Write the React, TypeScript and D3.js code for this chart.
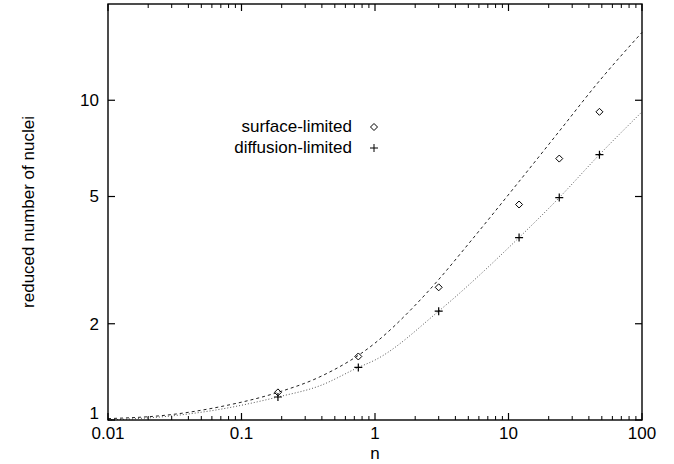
import React from 'react';
import * as d3 from 'd3';

// marker positions
const nValues = [0.1875, 0.75, 3, 12, 24, 48];
const surfaceValues = [1.22, 1.58, 2.6, 4.72, 6.57, 9.2];
const diffusionValues = [1.18, 1.46, 2.19, 3.72, 4.96, 6.76];

// model curves
const surfaceCurveN = [0.01, 0.03, 0.069, 0.187, 0.387, 1, 1.93, 3, 5, 12, 24, 48, 100];
const surfaceCurveY = [1.01, 1.04, 1.1, 1.22, 1.365, 1.74, 2.25, 2.75, 3.55, 5.57, 8.0, 11.5, 16.3];
const diffusionCurveN = [0.01, 0.03, 0.069, 0.187, 0.387, 0.75, 1, 3, 12, 24, 48, 100];
const diffusionCurveY = [1.0, 1.03, 1.08, 1.18, 1.28, 1.46, 1.54, 2.19, 3.72, 4.96, 6.76, 9.2];

const xTicks = [0.01, 0.1, 1, 10, 100];
const xTickLabels = ['0.01', '0.1', '1', '10', '100'];
const yTicks = [1, 2, 5, 10];
const yTickLabels = ['1', '2', '5', '10'];

const legendLabels = ['surface-limited', 'diffusion-limited'];

const W = 674;
const H = 464;
const margin = { top: 4, right: 32, bottom: 44, left: 108 };
const font = '"Liberation Sans", Arial, Helvetica, sans-serif';

const App = () => {
  const innerW = W - margin.left - margin.right;
  const innerH = H - margin.top - margin.bottom;

  const x = d3.scaleLog().domain([0.01, 100]).range([0, innerW]);
  const y = d3.scaleLog().domain([1, 20]).range([innerH, 0]);

  // minor ticks 2..9 in each decade
  const minorX: number[] = [];
  for (let e = -2; e < 2; e++) {
    for (let k = 2; k <= 9; k++) minorX.push(k * Math.pow(10, e));
  }

  const line = d3.line<[number, number]>()
    .x(d => x(d[0]))
    .y(d => y(d[1]))
    .curve(d3.curveMonotoneX);

  const surfacePath = line(surfaceCurveN.map((n, i) => [n, surfaceCurveY[i]] as [number, number])) || '';
  const diffusionPath = line(diffusionCurveN.map((n, i) => [n, diffusionCurveY[i]] as [number, number])) || '';

  const diamond = (cx: number, cy: number, r = 3.5) =>
    `M${cx},${cy - r}L${cx + r},${cy}L${cx},${cy + r}L${cx - r},${cy}Z`;
  const plus = (cx: number, cy: number, r = 4) =>
    `M${cx - r},${cy}H${cx + r}M${cx},${cy - r}V${cy + r}`;

  const legendX = 244;
  const legendY = 132;

  return (
    <svg width={W} height={H} style={{ position: 'absolute', left: 0, top: 0, background: '#fff' }}
      fontFamily={font}>
      <g transform={`translate(${margin.left},${margin.top})`}>
        {/* curves */}
        <path d={surfacePath} fill="none" stroke="#222" strokeWidth={1} strokeDasharray="3,3" />
        <path d={diffusionPath} fill="none" stroke="#555" strokeWidth={1} strokeDasharray="1,2" />

        {/* markers */}
        {nValues.map((n, i) => (
          <path key={'s' + i} d={diamond(x(n), y(surfaceValues[i]))} fill="none" stroke="#000" strokeWidth={1} />
        ))}
        {nValues.map((n, i) => (
          <path key={'d' + i} d={plus(x(n), y(diffusionValues[i]))} fill="none" stroke="#000" strokeWidth={1.2} />
        ))}

        {/* x ticks, bottom and top */}
        {minorX.map((t, i) => (
          <g key={'mx' + i}>
            <line x1={x(t)} x2={x(t)} y1={innerH} y2={innerH - 4} stroke="#000" strokeWidth={1} />
            <line x1={x(t)} x2={x(t)} y1={0} y2={4} stroke="#000" strokeWidth={1} />
          </g>
        ))}
        {xTicks.map((t, i) => (
          <g key={'x' + i}>
            <line x1={x(t)} x2={x(t)} y1={innerH} y2={innerH - 7} stroke="#000" strokeWidth={1.2} />
            <line x1={x(t)} x2={x(t)} y1={0} y2={7} stroke="#000" strokeWidth={1.2} />
            <text x={x(t)} y={innerH + 19} textAnchor="middle" fontSize={17} fill="#000">{xTickLabels[i]}</text>
          </g>
        ))}

        {/* y ticks, left and right */}
        {yTicks.map((t, i) => (
          <g key={'y' + i}>
            <line x1={0} x2={7} y1={y(t)} y2={y(t)} stroke="#000" strokeWidth={1.2} />
            <line x1={innerW} x2={innerW - 7} y1={y(t)} y2={y(t)} stroke="#000" strokeWidth={1.2} />
            <text x={-9} y={y(t)} dy={t === 1 ? '-0.05em' : '0.35em'} textAnchor="end" fontSize={17} fill="#000">
              {yTickLabels[i]}
            </text>
          </g>
        ))}

        {/* frame */}
        <rect x={0} y={0} width={innerW} height={innerH} fill="none" stroke="#000" strokeWidth={1.4} />

        {/* legend */}
        {legendLabels.map((lab, i) => (
          <g key={'l' + i}>
            <text x={legendX} y={legendY + i * 21 - margin.top} textAnchor="end" fontSize={17} fill="#000">{lab}</text>
            <path
              d={i === 0 ? diamond(266, legendY + i * 21 - margin.top - 5) : plus(266, legendY + i * 21 - margin.top - 5)}
              fill="none" stroke="#000" strokeWidth={1}
            />
          </g>
        ))}
      </g>

      {/* axis titles */}
      <text x={margin.left + innerW / 2} y={459} textAnchor="middle" fontSize={17} fill="#000">n</text>
      <text transform={`translate(34,${margin.top + innerH / 2}) rotate(-90)`} textAnchor="middle" fontSize={17} fill="#000">
        reduced number of nuclei
      </text>
    </svg>
  );
};

export default App;
